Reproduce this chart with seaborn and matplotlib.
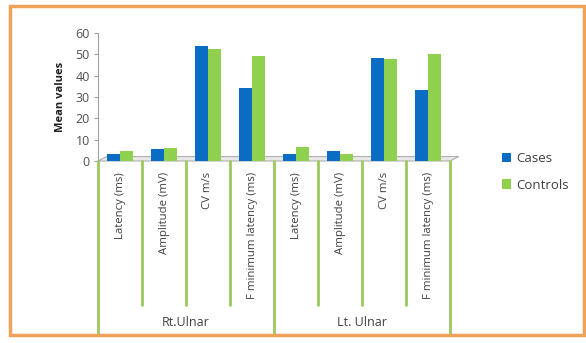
import matplotlib
matplotlib.use("Agg")
import matplotlib.pyplot as plt
import seaborn as sns
import pandas as pd
from matplotlib.patches import Rectangle, Polygon
from matplotlib.transforms import blended_transform_factory

# ---- data ----
measures = ["Latency (ms)", "Amplitude (mV)", "CV m/s", "F minimum latency (ms)",
            "Latency (ms)", "Amplitude (mV)", "CV m/s", "F minimum latency (ms)"]
groups = ["Rt.Ulnar", "Lt. Ulnar"]
cases = [3.5, 5.5, 54, 34, 3.5, 4.5, 48.5, 33.5]
controls = [4.5, 6, 52.5, 49, 6.5, 3.5, 48, 50]
series = ["Cases", "Controls"]
yticks = [0, 10, 20, 30, 40, 50, 60]

keys = [f"{i}" for i in range(len(measures))]
df = pd.DataFrame({
    "key": keys * 2,
    "value": cases + controls,
    "series": [series[0]] * len(keys) + [series[1]] * len(keys),
})

sns.set_style("white")
plt.rcParams["font.family"] = ["Open Sans", "DejaVu Sans"]

W, H = 586, 343
fig = plt.figure(figsize=(W / 100, H / 100), dpi=100)
ax_l, ax_r, ax_t, ax_b = 98, 450, 33, 161
ax = fig.add_axes([ax_l / W, 1 - ax_b / H, (ax_r - ax_l) / W, (ax_b - ax_t) / H])

# floor (3D look)
fx = blended_transform_factory(ax.transData, ax.transAxes)
floor = Polygon([(-0.5, 0), (7.5, 0), (7.5 + 0.2, 0.035), (-0.5 + 0.2, 0.035)],
                closed=True, transform=fx, facecolor="#e8e8e8", edgecolor="#b0b0b0",
                linewidth=0.8, clip_on=False, zorder=0)
ax.add_patch(floor)

sns.barplot(data=df, x="key", y="value", hue="series", order=keys,
            palette=["#0b6cc4", "#8fd14f"], width=0.6, saturation=1,
            edgecolor="none", ax=ax, zorder=3)

ax.set_xlim(-0.5, 7.5)
ax.set_ylim(0, 60)
ax.set_yticks(yticks)
ax.set_yticklabels([str(v) for v in yticks], fontsize=9, color="#505050")
ax.set_xticks(range(len(measures)))
ax.set_xticklabels(measures, rotation=90, fontsize=8.2, color="#404040", va="top")
ax.tick_params(axis="x", length=0, pad=8)
ax.tick_params(axis="y", length=3, color="#a0a0a0", width=0.8, left=True, pad=3)
ax.set_xlabel("")
ax.set_ylabel("Mean values", fontsize=8, fontweight="bold", color="#202020", labelpad=7)
for s in ["top", "right", "bottom"]:
    ax.spines[s].set_visible(False)
ax.spines["left"].set_color("#a0a0a0")
ax.spines["left"].set_linewidth(0.8)

# category separators (green)
long_bottom = (ax_b - 333) / (ax_b - ax_t)
short_bottom = (ax_b - 305) / (ax_b - ax_t)
for i in range(len(measures) + 1):
    x = i - 0.5
    yb = long_bottom if i % 4 == 0 else short_bottom
    ax.plot([x, x], [0, yb], transform=fx, color="#9cc95b", linewidth=2,
            clip_on=False, zorder=1)

# group labels
for gi, g in enumerate(groups):
    ax.text(gi * 4 + 1.5, (ax_b - 323) / (ax_b - ax_t), g, transform=fx,
            ha="center", va="center", fontsize=9, color="#404040")

# legend
handles, labels = ax.get_legend_handles_labels()
ax.legend(handles, labels, loc="center left", bbox_to_anchor=(490 / W, 1 - 172 / H),
          bbox_transform=fig.transFigure, frameon=False, fontsize=9.5,
          labelcolor="#404040", handlelength=0.7, handleheight=0.7,
          handletextpad=0.4, labelspacing=1.0)

# orange border
fig.patches.append(Rectangle((10 / W, 1 - 335 / H), 574 / W, 329 / H,
                             transform=fig.transFigure, fill=False,
                             edgecolor="#f0a25a", linewidth=2.5))

fig.savefig("out.png", dpi=100)
